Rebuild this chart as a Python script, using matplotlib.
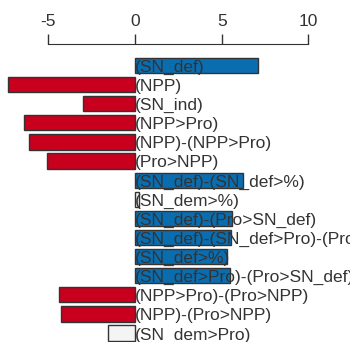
import matplotlib
matplotlib.use('Agg')
import matplotlib.pyplot as plt

plt.rcParams['font.family'] = ['Liberation Sans', 'DejaVu Sans']

labels = ['(SN_def)', '(NPP)', '(SN_ind)', '(NPP>Pro)', '(NPP)-(NPP>Pro)',
          '(Pro>NPP)', '(SN_def)-(SN_def>%)', '(SN_dem>%)',
          '(SN_def)-(Pro>SN_def)', '(SN_def)-(SN_def>Pro)-(Pro>SN_def)',
          '(SN_def>%)', '(SN_def>Pro)-(Pro>SN_def)', '(NPP>Pro)-(Pro>NPP)',
          '(NPP)-(Pro>NPP)', '(SN_dem>Pro)']
values = [7.1, -7.33, -3.0, -6.4, -6.1, -5.1, 6.2, 0.25, 5.6, 5.55, 5.3,
          5.5, -4.4, -4.3, -1.55]
significant = [True, True, True, True, True, True, True, False, True, True,
               True, True, True, True, False]

colors = []
for v, s in zip(values, significant):
    if not s:
        colors.append('#f4f4f4')
    elif v > 0:
        colors.append('#0a6db0')
    else:
        colors.append('#c8001e')

fig = plt.figure(figsize=(3.5, 3.42), dpi=100)
ax = fig.add_axes([0, 0, 1, 0.8713])
y = list(range(len(values)))
ax.barh(y, values, height=0.8, color=colors, edgecolor='#333333',
        linewidth=1)
for yi, lab in zip(y, labels):
    ax.text(0, yi + 0.1, lab, ha='left', va='center', fontsize=12.5,
            color='#333333')

ax.set_xlim(-7.79, 12.4)
ax.set_ylim(14.47, -1.125)
ax.xaxis.tick_top()
ax.set_xticks([-5, 0, 5, 10])
ax.set_xticklabels(['-5', '0', '5', '10'])
ax.tick_params(axis='x', direction='out', length=7, width=1,
               colors='#333333', labelsize=12.5, pad=4)
ax.set_yticks([])
for side in ['left', 'right', 'bottom']:
    ax.spines[side].set_visible(False)
ax.spines['top'].set_bounds(-5, 10)
ax.spines['top'].set_color('#333333')

fig.savefig('out.png', dpi=100)
